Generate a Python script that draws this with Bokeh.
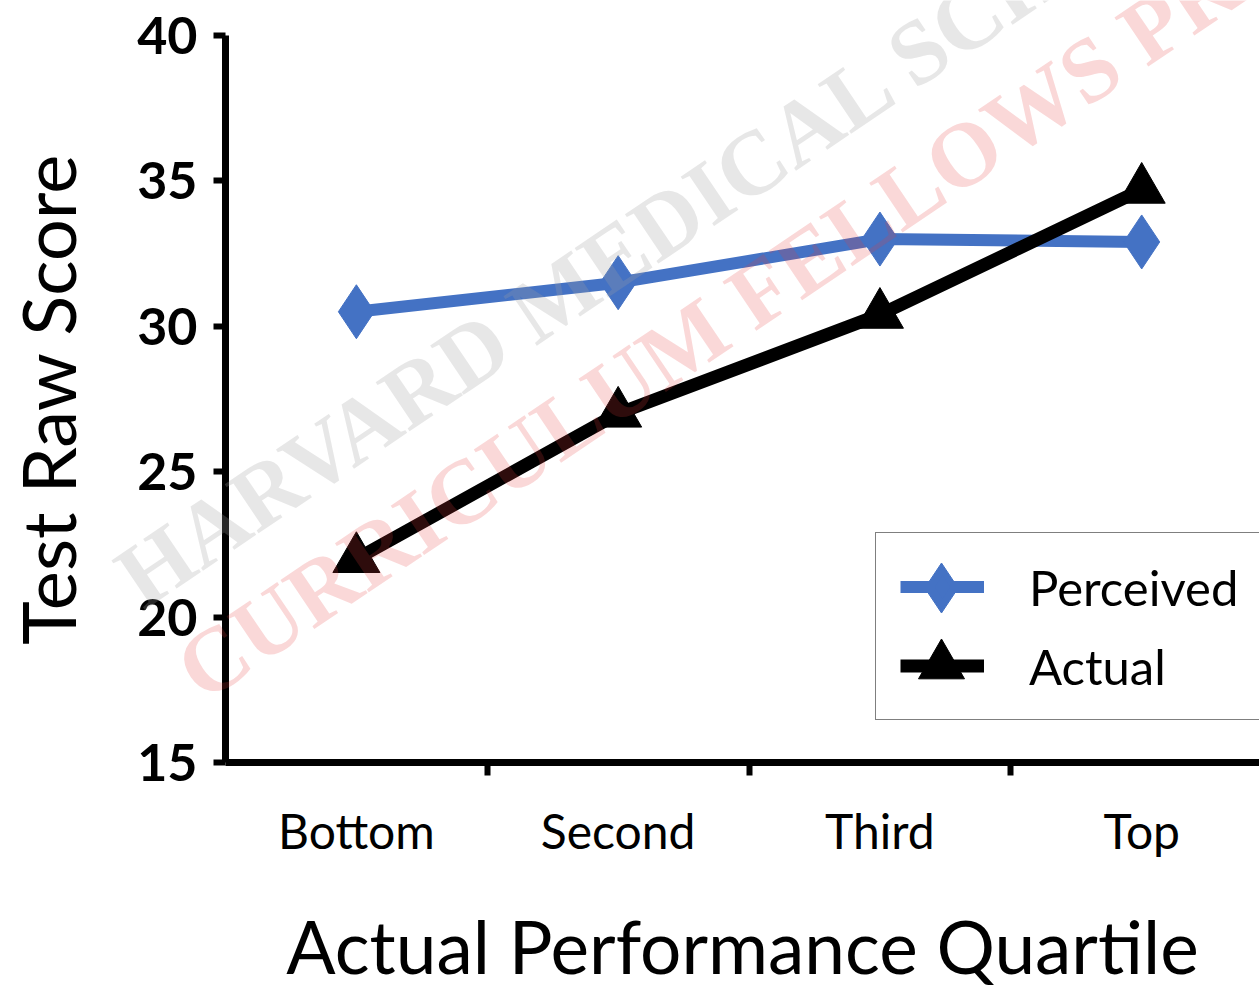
import math

from bokeh.embed import file_html
from bokeh.models import Column, FixedTicker, GridBox, Label, Legend, LegendItem, Range1d
from bokeh.plotting import figure
from bokeh.resources import INLINE

# Quartile groups and mean raw scores
quartiles = ["Bottom", "Second", "Third", "Top"]
perceived = [30.5, 31.5, 33.0, 32.9]
actual = [22.0, 27.0, 30.4, 34.7]
y_ticks = [15, 20, 25, 30, 35, 40]

xpos = list(range(len(quartiles)))
boundaries = [i + 0.5 for i in xpos[:-1]]

FONT = "Lato"
BLUE = "#4472C4"

X0, X1 = -0.5, 3.45
Y0, Y1 = 15, 40
FRAME_W, FRAME_H = 1034, 727
BORDER_L, BORDER_T, BORDER_B = 225, 35, 227
CANVAS_W = BORDER_L + FRAME_W
CANVAS_H = BORDER_T + FRAME_H + BORDER_B

p = figure(
    frame_width=FRAME_W, frame_height=FRAME_H,
    x_range=Range1d(X0, X1), y_range=Range1d(Y0, Y1),
    output_backend="svg", toolbar_location=None,
    min_border_left=BORDER_L, min_border_right=0,
    min_border_top=BORDER_T, min_border_bottom=BORDER_B,
)
p.outline_line_color = None
p.grid.visible = False
p.background_fill_color = "white"
p.border_fill_color = "white"

# x axis: labels at category centres, tick marks between categories
xa = p.xaxis[0]
xa.ticker = FixedTicker(ticks=xpos, minor_ticks=boundaries)
xa.major_label_overrides = {i: q for i, q in zip(xpos, quartiles)}
xa.major_tick_line_color = None
xa.minor_tick_in = 0
xa.minor_tick_out = 13
xa.minor_tick_line_width = 6
xa.minor_tick_line_color = "black"
xa.axis_line_width = 7
xa.axis_line_color = "black"
xa.major_label_text_font = FONT
xa.major_label_text_font_size = "48px"
xa.major_label_text_color = "black"
xa.major_label_standoff = 26
xa.axis_label = "Actual Performance Quartile"
xa.axis_label_text_font = FONT
xa.axis_label_text_font_size = "73px"
xa.axis_label_text_font_style = "normal"
xa.axis_label_text_color = "black"
xa.axis_label_standoff = 40

# y axis
ya = p.yaxis[0]
ya.ticker = FixedTicker(ticks=y_ticks, minor_ticks=[])
ya.major_tick_in = 0
ya.major_tick_out = 12
ya.major_tick_line_width = 6
ya.major_tick_line_color = "black"
ya.axis_line_width = 7
ya.axis_line_color = "black"
ya.major_label_text_font = FONT
ya.major_label_text_font_size = "52px"
ya.major_label_text_font_style = "bold"
ya.major_label_text_color = "black"
ya.major_label_standoff = 16
ya.axis_label = "Test Raw Score"
ya.axis_label_text_font = FONT
ya.axis_label_text_font_size = "74px"
ya.axis_label_text_font_style = "normal"
ya.axis_label_text_color = "black"
ya.axis_label_standoff = 42

# legend geometry (screen px, measured from the frame's lower-left corner)
LEG_X, LEG_Y = 650, 42
PAD, GLYPH_W, ROW_H, GAP = 24, 84, 59, 20


def to_data_x(sx):
    return X0 + sx * (X1 - X0) / FRAME_W


def to_data_y(sy):
    return Y0 + sy * (Y1 - Y0) / FRAME_H


# full-size sample markers for the legend rows (drawn beneath the legend's line samples)
leg_cx = to_data_x(LEG_X + PAD + GLYPH_W / 2)
row_perc = LEG_Y + PAD + ROW_H + GAP + ROW_H / 2
row_act = LEG_Y + PAD + ROW_H / 2
p.scatter([leg_cx], [to_data_y(row_perc)], marker="diamond", size=50,
          fill_color=BLUE, line_color=BLUE)
p.scatter([leg_cx], [to_data_y(row_act) + 0.05], marker="triangle", size=46,
          fill_color="black", line_color="black")

# series
pl = p.line(xpos, perceived, line_color=BLUE, line_width=12)
pm = p.scatter(xpos, perceived, marker="diamond", size=54,
               fill_color=BLUE, line_color=BLUE, line_width=1)
al = p.line(xpos, actual, line_color="black", line_width=13)
am = p.scatter(xpos, actual, marker="triangle", size=47,
               fill_color="black", line_color="black", line_width=1)

legend = Legend(
    items=[LegendItem(label="Perceived", renderers=[pl, pm]),
           LegendItem(label="Actual", renderers=[al, am])],
    location=(LEG_X, LEG_Y),
    orientation="vertical",
    padding=PAD, spacing=GAP, margin=0,
    glyph_width=GLYPH_W, glyph_height=ROW_H, label_height=ROW_H,
    label_standoff=45,
    label_text_font=FONT, label_text_font_size="49px", label_text_color="black",
    border_line_color="black", border_line_width=1.5,
    background_fill_alpha=0,
)
p.add_layout(legend, "center")

# transparent full-canvas layer carrying the faint diagonal watermark lettering
wm = figure(
    width=CANVAS_W, height=CANVAS_H,
    x_range=Range1d(0, CANVAS_W), y_range=Range1d(CANVAS_H, 0),
    x_axis_type=None, y_axis_type=None,
    output_backend="svg", toolbar_location=None,
    min_border=0,
)
wm.outline_line_color = None
wm.grid.visible = False
wm.background_fill_alpha = 0
wm.border_fill_alpha = 0

ang = math.radians(34)
wm.add_layout(Label(
    x=126, y=585, text="HARVARD MEDICAL SCHOOL", angle=ang,
    text_font="Liberation Serif", text_font_style="bold", text_font_size="91px",
    text_color="#a0a0a0", text_alpha=0.25,
    text_align="left", text_baseline="middle",
))
wm.add_layout(Label(
    x=186, y=678, text="CURRICULUM FELLOWS PROGRAM", angle=ang,
    text_font="Liberation Serif", text_font_style="bold", text_font_size="91px",
    text_color="#e63c3c", text_alpha=0.2,
    text_align="left", text_baseline="middle",
))

# the watermark layer sits in the same grid cell, on top of the chart
wm_layer = Column(children=[wm], width=CANVAS_W, height=CANVAS_H)
page = GridBox(children=[(p, 0, 0), (wm_layer, 0, 0)], spacing=0)

open("out.html", "w").write(file_html(page, INLINE))
